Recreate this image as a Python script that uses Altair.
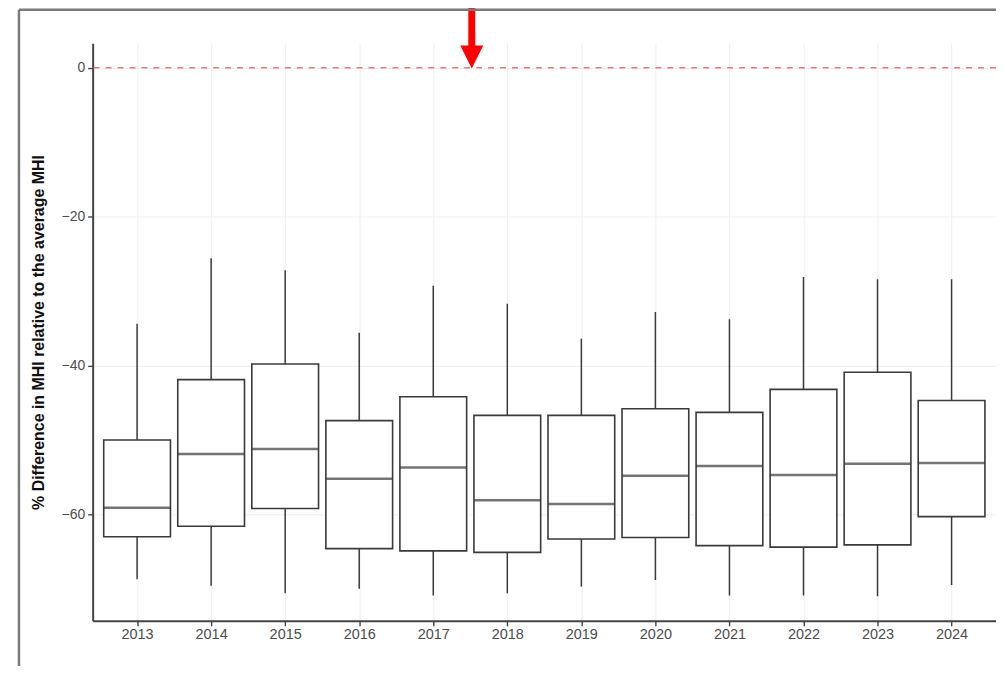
import altair as alt
import pandas as pd

# ---- data ----
YEARS = [2013, 2014, 2015, 2016, 2017, 2018, 2019, 2020, 2021, 2022, 2023, 2024]
UPPER = [-34.4, -25.6, -27.2, -35.6, -29.3, -31.7, -36.4, -32.8, -33.8, -28.1, -28.4, -28.4]
Q3 = [-50.0, -41.9, -39.8, -47.4, -44.2, -46.7, -46.7, -45.8, -46.3, -43.2, -40.9, -44.7]
MEDIAN = [-59.1, -51.9, -51.2, -55.2, -53.7, -58.1, -58.6, -54.8, -53.5, -54.7, -53.2, -53.1]
Q1 = [-63.0, -61.6, -59.2, -64.6, -64.9, -65.1, -63.3, -63.1, -64.2, -64.4, -64.1, -60.3]
LOWER = [-68.7, -69.6, -70.6, -70.0, -70.9, -70.6, -69.7, -68.8, -70.9, -70.9, -71.0, -69.5]

Y_TICKS = [0, -20, -40, -60]
REF_LINE = 0
ARROW_X = 2017.52
ARROW_TOP = 12.0
ARROW_SHAFT_END = 2.9
ARROW_HEAD_Y = 1.45
Y_TITLE = "% Difference in MHI relative to the average MHI"

df = pd.DataFrame({
    "year": YEARS, "upper": UPPER, "q3": Q3, "median": MEDIAN, "q1": Q1, "lower": LOWER,
})

W, H = 907, 580
BOX_PX = 67
DARK = "#3a3a3a"

x_scale = alt.Scale(domain=[2012.4, 2024.6], nice=False, zero=False, padding=0)
y_scale = alt.Scale(domain=[-74.3, 3.3], nice=False, zero=False, padding=0)

x_axis = alt.Axis(
    values=YEARS, format="d", title=None, grid=True, gridColor="#efefef", gridWidth=1,
    domainColor="#444444", domainWidth=2, tickColor="#444444", tickSize=5, tickWidth=1.4,
    labelColor="#4d4d4d", labelFontSize=14.5, labelFont="Liberation Sans", labelPadding=2,
)
y_axis = alt.Axis(
    values=Y_TICKS, title=Y_TITLE, grid=True, gridColor="#efefef", gridWidth=1,
    domainColor="#444444", domainWidth=2, tickColor="#444444", tickSize=5, tickWidth=1.4,
    labelColor="#4d4d4d", labelFontSize=14, labelFont="Liberation Sans", labelPadding=3,
    titleFont="Liberation Sans", titleFontSize=16, titleFontWeight="bold", titleColor="#111111",
    titlePadding=15,
)

base = alt.Chart(df)

whiskers = base.mark_rule(color=DARK, strokeWidth=1.5).encode(
    x=alt.X("year:Q", scale=x_scale, axis=x_axis),
    y=alt.Y("lower:Q", scale=y_scale, axis=y_axis),
    y2="upper:Q",
)

boxes = base.mark_bar(size=BOX_PX, fill="white", stroke=DARK, strokeWidth=1.6).encode(
    x="year:Q", y="q1:Q", y2="q3:Q",
)

medians = base.mark_tick(size=BOX_PX, thickness=2.5, color=DARK, orient="horizontal").encode(
    x="year:Q", y="median:Q",
)

ref = alt.Chart(pd.DataFrame({"v": [REF_LINE]})).mark_rule(
    color="#ee7777", strokeDash=[6, 6], strokeWidth=1.6
).encode(y="v:Q")

arrow_df = pd.DataFrame({"x": [ARROW_X], "top": [ARROW_TOP], "end": [ARROW_SHAFT_END], "head": [ARROW_HEAD_Y]})
shaft = alt.Chart(arrow_df).mark_rule(color="#ff0000", strokeWidth=7).encode(
    x="x:Q", y="top:Q", y2="end:Q"
)
head = alt.Chart(arrow_df).mark_point(
    shape="M-1,-1L1,-1L0,1Z", filled=True, color="#ff0000", opacity=1, size=530, strokeWidth=0
).encode(x="x:Q", y="head:Q")

one = alt.Data(values=[{"a": 1}])
frame_left = alt.Chart(one).mark_rule(color="#7a7a7a", strokeWidth=2.5).encode(
    x=alt.value(-74), y=alt.value(-33.5), y2=alt.value(700)
)
frame_top = alt.Chart(one).mark_rule(color="#7a7a7a", strokeWidth=2.5).encode(
    x=alt.value(-74), x2=alt.value(1000), y=alt.value(-33.5)
)

chart = alt.layer(
    ref, whiskers, boxes, medians, shaft, head, frame_left, frame_top
).properties(
    width=W, height=H,
    background="white",
    autosize=alt.AutoSizeParams(type="none"),
    padding={"left": 85, "top": 34, "right": 0, "bottom": 44},
).configure_view(stroke="transparent", strokeWidth=0)

chart.save("out.html", embed_options={"renderer": "svg", "actions": False})
